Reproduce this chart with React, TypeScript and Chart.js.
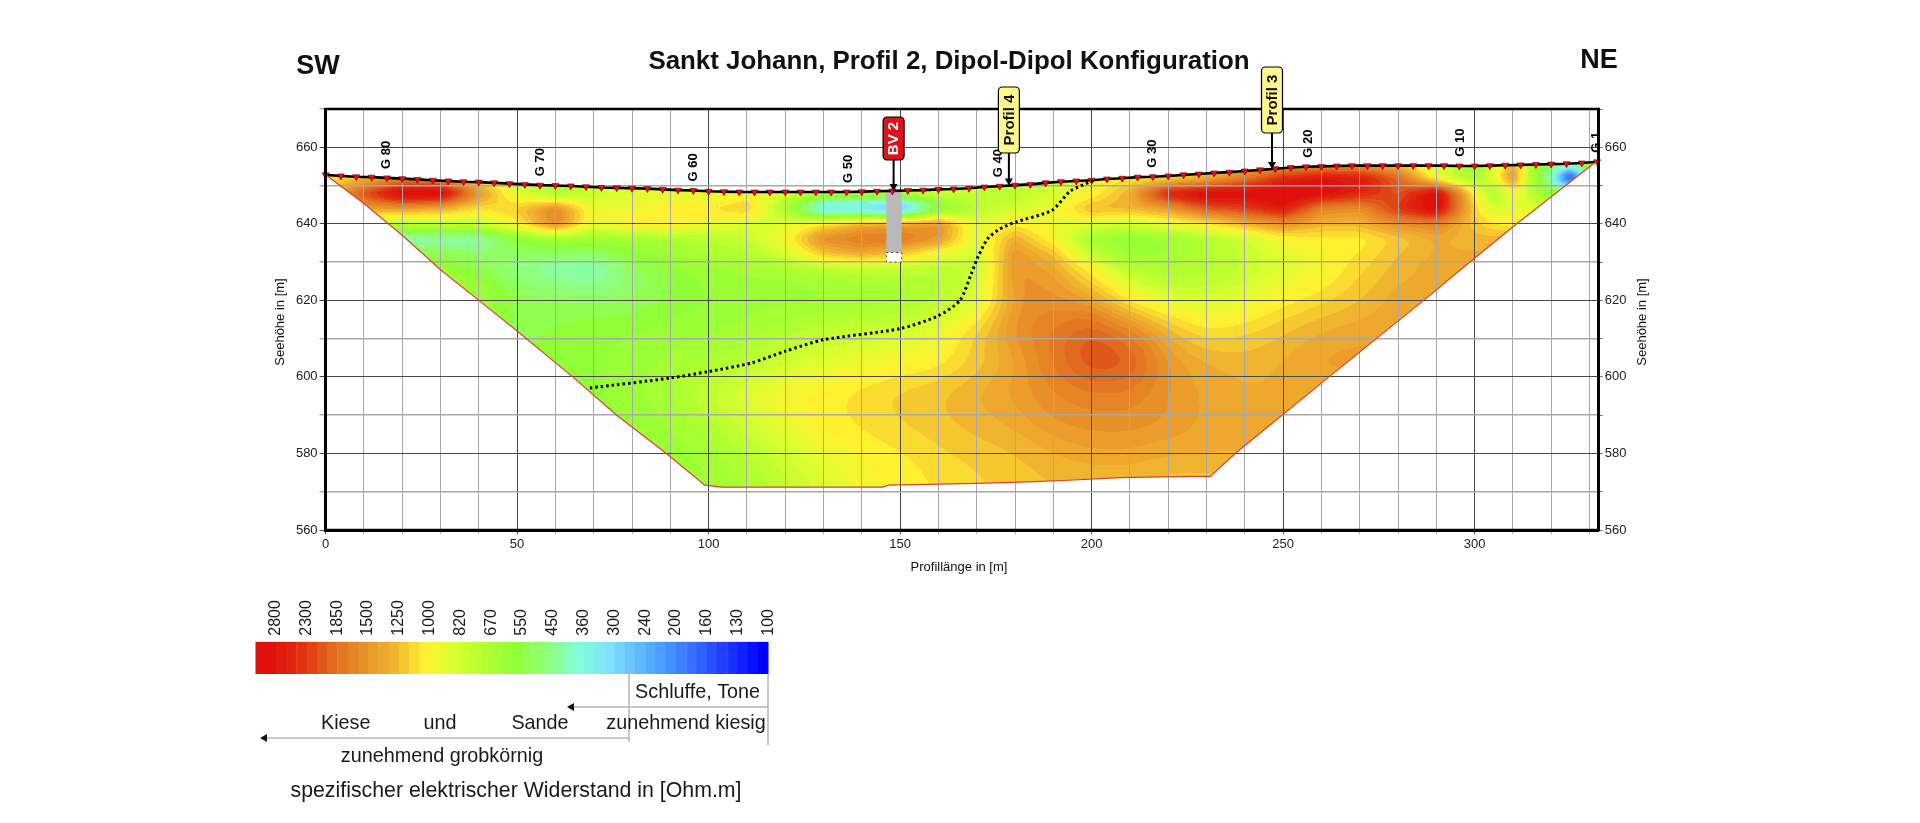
import { useEffect, useRef } from "react"
import { Chart, registerables } from "chart.js"

Chart.register(...registerables)
Chart.defaults.font.family = '"Liberation Sans", Arial, sans-serif'

const _ = null

const gridX = [0, 10, 20, 30, 40, 50, 60, 70, 80, 90, 100, 110, 120, 130, 140, 150, 160, 170, 180, 190, 200, 210, 220, 230, 240, 250, 260, 270, 280, 290, 300, 305, 310, 315, 320, 325, 330]
const gridY = [656, 652, 648, 644, 640, 636, 632, 628, 624, 620, 612, 604, 596, 588, 580, 572]
const rho656 = [1000, 1050, 1100, 1050, 900, 700, 700, 800, 850, 850, 850, 850, 800, 800, 800, 800, 800, 800, 800, 800, 950, 1000, 1000, 1050, 1100, 1250, 1300, 1300, 1100, 800, 620, 800, 1300, 650, 500, 520, 600]
const rho652 = [1000, 1200, 1500, 1500, 1000, 750, 720, 800, 850, 850, 850, 850, 800, 800, 800, 800, 800, 800, 800, 850, 950, 1000, 1050, 1250, 1700, 2400, 2800, 2700, 1900, 900, 600, 900, 1500, 650, 380, 115, 500]
const rho648 = [1100, 2100, 3400, 3300, 1500, 850, 620, 750, 850, 850, 850, 950, 820, 680, 650, 680, 780, 750, 700, 800, 950, 1300, 2700, 3200, 3000, 3200, 3000, 2500, 2000, 3200, 1000, 620, 950, 700, 520, 650, 700]
const rho644 = [_, _, 1400, 1300, 1050, 1150, 1600, 900, 900, 1000, 1050, 1150, 650, 280, 270, 220, 500, 700, 800, 900, 1250, 1250, 1400, 2000, 2200, 2700, 1600, 1500, 2300, 3100, 1100, 800, 850, 850, _, _, _]
const rho640 = [_, _, 700, 750, 750, 1000, 1600, 900, 1050, 1050, 900, 820, 850, 1050, 1300, 1400, 1500, 850, 1000, 900, 850, 800, 900, 1000, 1250, 1500, 1250, 1250, 1500, 1600, 1150, 1050, 1000, _, _, _, _]
const rho636 = [_, _, _, 400, 400, 550, 620, 600, 620, 650, 700, 750, 950, 1550, 1700, 1700, 1450, 850, 1300, 950, 620, 560, 600, 680, 780, 950, 1000, 1000, 1150, 1300, 1250, _, _, _, _, _, _]
const rho632 = [_, _, _, 520, 480, 480, 480, 470, 550, 600, 650, 680, 800, 1150, 1300, 1150, 900, 800, 1450, 1200, 750, 600, 620, 680, 760, 850, 950, 1050, 1200, 1300, 1300, _, _, _, _, _, _]
const rho628 = [_, _, _, 600, 520, 440, 400, 390, 480, 550, 600, 620, 640, 680, 700, 700, 680, 750, 1500, 1350, 1000, 700, 650, 680, 750, 850, 950, 1100, 1250, 1350, _, _, _, _, _, _, _]
const rho624 = [_, _, _, _, 600, 480, 450, 430, 470, 520, 570, 590, 590, 600, 620, 640, 680, 800, 1500, 1450, 1150, 850, 720, 720, 800, 900, 1000, 1150, 1300, _, _, _, _, _, _, _, _]
const rho620 = [_, _, _, _, 650, 520, 500, 490, 500, 540, 570, 590, 590, 600, 600, 620, 680, 800, 1450, 1500, 1400, 1000, 850, 820, 880, 1000, 1100, 1200, 1350, _, _, _, _, _, _, _, _]
const rho612 = [_, _, _, _, _, 520, 540, 560, 570, 590, 600, 620, 680, 720, 760, 800, 900, 1150, 1500, 1700, 1950, 1650, 1250, 1050, 1100, 1200, 1300, 1350, _, _, _, _, _, _, _, _, _]
const rho604 = [_, _, _, _, _, _, 530, 560, 590, 620, 650, 700, 780, 850, 900, 950, 1000, 1150, 1350, 1700, 2100, 2000, 1450, 1300, 1250, 1300, 1400, _, _, _, _, _, _, _, _, _, _]
const rho596 = [_, _, _, _, _, _, _, 560, 600, 650, 750, 850, 980, 1000, 1080, 1150, 1200, 1300, 1400, 1550, 1650, 1650, 1450, 1350, 1300, 1300, _, _, _, _, _, _, _, _, _, _, _]
const rho588 = [_, _, _, _, _, _, _, _, 560, 620, 680, 780, 900, 1000, 1060, 1120, 1180, 1250, 1320, 1450, 1500, 1500, 1450, 1350, 1300, _, _, _, _, _, _, _, _, _, _, _, _]
const rho580 = [_, _, _, _, _, _, _, _, _, 580, 630, 700, 800, 900, 980, 1030, 1100, 1150, 1200, 1280, 1350, 1350, 1300, 1300, _, _, _, _, _, _, _, _, _, _, _, _, _]
const rho572 = [_, _, _, _, _, _, _, _, _, _, 600, 650, 720, 820, 920, 980, 1050, 1100, 1150, 1200, 1200, 1200, 1150, 1150, _, _, _, _, _, _, _, _, _, _, _, _, _]
const gridRows = [rho656, rho652, rho648, rho644, rho640, rho636, rho632, rho628, rho624, rho620, rho612, rho604, rho596, rho588, rho580, rho572]

// Ground surface with electrodes
const surfaceX = [0, 4, 8, 12, 16, 20, 24, 28, 32, 36, 40, 44, 48, 52, 56, 60, 64, 68, 72, 76, 80, 84, 88, 92, 96, 100, 104, 108, 112, 116, 120, 124, 128, 132, 136, 140, 144, 148, 152, 156, 160, 164, 168, 172, 176, 180, 184, 188, 192, 196, 200, 204, 208, 212, 216, 220, 224, 228, 232, 236, 240, 244, 248, 252, 256, 260, 264, 268, 272, 276, 280, 284, 288, 292, 296, 300, 304, 308, 312, 316, 320, 324, 328, 332]
const surfaceY = [652.8, 652.5, 652.3, 652.2, 652.0, 651.8, 651.6, 651.4, 651.2, 651.0, 650.9, 650.7, 650.5, 650.3, 650.1, 650.0, 649.9, 649.7, 649.5, 649.4, 649.3, 649.2, 649.0, 648.8, 648.7, 648.5, 648.4, 648.3, 648.3, 648.3, 648.3, 648.3, 648.3, 648.3, 648.3, 648.4, 648.5, 648.6, 648.7, 648.8, 649.0, 649.1, 649.3, 649.6, 649.8, 650.1, 650.3, 650.7, 651.0, 651.2, 651.4, 651.7, 651.9, 652.2, 652.3, 652.5, 652.8, 653.0, 653.3, 653.5, 653.8, 654.1, 654.4, 654.7, 654.9, 655.0, 655.1, 655.2, 655.2, 655.2, 655.2, 655.2, 655.2, 655.2, 655.1, 655.1, 655.2, 655.3, 655.4, 655.5, 655.6, 655.7, 655.9, 656.2]

// Lower edge of the inverted section
const boundaryX = [0, 10, 20, 30, 40, 50, 64.5, 76, 89, 99, 103.5, 145.5, 147, 170, 183.6, 194, 207.6, 225.6, 231, 237.5, 262, 286.7, 300, 311, 331.7]
const boundaryY = [652.8, 645.3, 637, 628, 620, 612, 600, 590, 580, 571.7, 571.2, 571.2, 571.7, 572.2, 572.6, 573, 573.7, 574, 574, 580, 600, 620, 631, 640, 656.2]

// Dotted interpretation line
const layerX = [69, 90, 100, 111, 120, 130, 150, 160, 165.6, 168.6, 170.4, 172.8, 175.8, 180, 189.6, 194.4, 200.4]
const layerY = [597.1, 599.7, 601.4, 603.6, 606.7, 609.7, 612.6, 616, 620, 627, 631.5, 636, 638.5, 640.4, 643.5, 648.5, 651.3]

const gaugeLabels = ["G 80", "G 70", "G 60", "G 50", "G 40", "G 30", "G 20", "G 10", "G 1"]
const gaugeX = [16, 56, 96, 136.5, 175.8, 216, 256.7, 296.3, 331.7]
const gaugeY = [652, 650.1, 648.7, 648.3, 649.8, 652.3, 654.9, 655.2, 656.2]

const markerLabels = ["BV 2", "Profil 4", "Profil 3"]
const markerX = [148.3, 178.4, 247.1]
const markerY = [648.6, 650, 654.3]

const boreX = [146.4, 150.4]
const boreY = [648.5, 632.5, 630]

// Colour scale
const scaleLevels = [3000, 2800, 2630, 2460, 2300, 2140, 1990, 1850, 1730, 1610, 1500, 1410, 1330, 1250, 1160, 1080, 1000, 930, 870, 820, 770, 720, 670, 630, 590, 550, 510, 480, 450, 420, 390, 360, 340, 320, 300, 280, 260, 240, 225, 212, 200, 185, 172, 160, 150, 140, 130, 120, 110, 100]
const scaleColors = ["#e0100c", "#e03010", "#e06a20", "#e89028", "#f0b430", "#fff030", "#d8ff30", "#b0ff30", "#90ff38", "#90ff80", "#80ffd8", "#80e0ff", "#60b8ff", "#4090ff", "#3060ff", "#1830ff", "#0000ff"]

const titleText = "Sankt Johann, Profil 2, Dipol-Dipol Konfiguration"
const xTitle = "Profillänge in [m]"
const yTitle = "Seehöhe in [m]"

const hexRgb = (hex: string) => [1, 3, 5].map((i) => parseInt(hex.slice(i, i + 2), 16))

const levelRgb = scaleLevels.map((_v, i) => {
  const k = Math.max(0, (i - 1) / 3)
  const a = Math.floor(k)
  const b = Math.min(a + 1, scaleColors.length - 1)
  const ca = hexRgb(scaleColors[a])
  const cb = hexRgb(scaleColors[b])
  return ca.map((c, n) => Math.round(c + (cb[n] - c) * (k - a)))
})
const levelLog = scaleLevels.map((v) => Math.log10(v))

const findCell = (list: number[], v: number) => {
  let i = 0
  while (i < list.length - 2 && list[i + 1] < v) i++
  return i
}

// Cells outside the section take the nearest reading of their row
const filledRows = gridRows.map((row) =>
  row.map((v, i) => {
    if (v !== null) return Math.log10(v)
    for (let d = 1; d < row.length; d++) {
      const l = row[i - d]
      const r = row[i + d]
      if (l != null) return Math.log10(l)
      if (r != null) return Math.log10(r)
    }
    return 2.8
  })
)

const elevations = [...gridY].reverse()
const rowsUp = [...filledRows].reverse()

function boxBlur(src: Float32Array, w: number, h: number, r: number) {
  const tmp = new Float32Array(src.length)
  for (let y = 0; y < h; y++) {
    for (let x = 0; x < w; x++) {
      let sum = 0
      for (let d = -r; d <= r; d++) sum += src[y * w + Math.min(w - 1, Math.max(0, x + d))]
      tmp[y * w + x] = sum / (2 * r + 1)
    }
  }
  for (let y = 0; y < h; y++) {
    for (let x = 0; x < w; x++) {
      let sum = 0
      for (let d = -r; d <= r; d++) sum += tmp[Math.min(h - 1, Math.max(0, y + d)) * w + x]
      src[y * w + x] = sum / (2 * r + 1)
    }
  }
}

function renderSection(chart: any) {
  const { left, top, right, bottom } = chart.chartArea
  const w = Math.ceil(right - left)
  const h = Math.ceil(bottom - top)
  const field = new Float32Array(w * h)
  for (let j = 0; j < h; j++) {
    const yv = chart.scales.y.getValueForPixel(top + j + 0.5)
    const r = findCell(elevations, yv)
    const ty = Math.min(1, Math.max(0, (yv - elevations[r]) / (elevations[r + 1] - elevations[r])))
    for (let i = 0; i < w; i++) {
      const xv = chart.scales.x.getValueForPixel(left + i + 0.5)
      const c = findCell(gridX, xv)
      const tx = Math.min(1, Math.max(0, (xv - gridX[c]) / (gridX[c + 1] - gridX[c])))
      const lo = rowsUp[r][c] + (rowsUp[r][c + 1] - rowsUp[r][c]) * tx
      const hi = rowsUp[r + 1][c] + (rowsUp[r + 1][c + 1] - rowsUp[r + 1][c]) * tx
      field[j * w + i] = lo + (hi - lo) * ty
    }
  }
  // the deep rows are further apart, so they get a wider smoothing
  const wide = field.slice()
  boxBlur(wide, w, h, 14)
  boxBlur(wide, w, h, 10)
  boxBlur(field, w, h, 4)
  boxBlur(field, w, h, 3)
  for (let j = 0; j < h; j++) {
    const yv = chart.scales.y.getValueForPixel(top + j + 0.5)
    const t = Math.min(1, Math.max(0, (632 - yv) / 10))
    for (let i = 0; i < w; i++) {
      field[j * w + i] += (wide[j * w + i] - field[j * w + i]) * t
    }
  }
  const off = document.createElement("canvas")
  off.width = w
  off.height = h
  const octx = off.getContext("2d")!
  const img = octx.createImageData(w, h)
  for (let p = 0; p < w * h; p++) {
    const v = field[p]
    let best = 0
    for (let n = 1; n < levelLog.length; n++) {
      if (Math.abs(levelLog[n] - v) < Math.abs(levelLog[best] - v)) best = n
    }
    img.data[p * 4] = levelRgb[best][0]
    img.data[p * 4 + 1] = levelRgb[best][1]
    img.data[p * 4 + 2] = levelRgb[best][2]
    img.data[p * 4 + 3] = 255
  }
  octx.putImageData(img, 0, 0)
  return off
}

const sectionPlugin = {
  id: "section",
  beforeDraw(chart: any) {
    const { ctx, scales, chartArea } = chart
    const off = renderSection(chart)
    ctx.save()
    ctx.beginPath()
    surfaceX.forEach((x, i) => {
      ctx.lineTo(scales.x.getPixelForValue(x), scales.y.getPixelForValue(surfaceY[i]))
    })
    for (let i = boundaryX.length - 1; i >= 0; i--) {
      ctx.lineTo(scales.x.getPixelForValue(boundaryX[i]), scales.y.getPixelForValue(boundaryY[i]))
    }
    ctx.closePath()
    ctx.clip()
    ctx.drawImage(off, chartArea.left, chartArea.top)
    ctx.restore()
  },
  beforeDatasetsDraw(chart: any) {
    const { ctx, scales } = chart
    const x0 = scales.x.getPixelForValue(boreX[0])
    const x1 = scales.x.getPixelForValue(boreX[1])
    const y0 = scales.y.getPixelForValue(boreY[0])
    const y1 = scales.y.getPixelForValue(boreY[1])
    const y2 = scales.y.getPixelForValue(boreY[2])
    ctx.save()
    ctx.fillStyle = "#b9b9b9"
    ctx.fillRect(x0, y0, x1 - x0, y1 - y0)
    ctx.fillStyle = "#ffffff"
    ctx.fillRect(x0, y1, x1 - x0, y2 - y1)
    ctx.setLineDash([2, 3])
    ctx.strokeStyle = "#444"
    ctx.lineWidth = 1
    ctx.strokeRect(x0, y1, x1 - x0, y2 - y1)
    ctx.restore()
  },
  afterDraw(chart: any) {
    const { ctx, scales, chartArea } = chart
    const rotated = (text: string, x: number, y: number, align: CanvasTextAlign) => {
      ctx.save()
      ctx.translate(x, y)
      ctx.rotate(-Math.PI / 2)
      ctx.textAlign = align
      ctx.textBaseline = "middle"
      ctx.fillText(text, 0, 0)
      ctx.restore()
    }
    ctx.save()
    // frame
    ctx.strokeStyle = "#000"
    ctx.lineWidth = 2.5
    ctx.strokeRect(chartArea.left, chartArea.top, chartArea.right - chartArea.left, chartArea.bottom - chartArea.top)

    // headings
    ctx.fillStyle = "#111"
    ctx.textAlign = "center"
    ctx.textBaseline = "middle"
    ctx.font = 'bold 25.9px "Liberation Sans"'
    ctx.fillText(titleText, 949, 62)
    ctx.font = 'bold 27px "Liberation Sans"'
    ctx.fillText("SW", 318, 67)
    ctx.fillText("NE", 1599, 61)

    // axis titles
    ctx.font = '13px "Liberation Sans"'
    ctx.fillText(xTitle, 959, 567)
    rotated(yTitle, 280.5, 322, "center")
    rotated(yTitle, 1642, 322, "center")

    // geophone labels
    ctx.fillStyle = "#000"
    ctx.font = 'bold 13px "Liberation Sans"'
    gaugeLabels.forEach((label, i) => {
      rotated(label, scales.x.getPixelForValue(gaugeX[i]), scales.y.getPixelForValue(gaugeY[i]) - 9, "left")
    })

    // borehole and profile flags
    markerLabels.forEach((label, i) => {
      const x = scales.x.getPixelForValue(markerX[i])
      const tip = scales.y.getPixelForValue(markerY[i])
      const isBore = i === 0
      const boxTop = i === 0 ? 117 : i === 1 ? 87 : 67
      const boxBottom = i === 0 ? 160 : i === 1 ? 153 : 133
      ctx.strokeStyle = "#000"
      ctx.lineWidth = 2
      ctx.beginPath()
      ctx.moveTo(x, boxBottom)
      ctx.lineTo(x, tip - 5)
      ctx.stroke()
      ctx.fillStyle = "#000"
      ctx.beginPath()
      ctx.moveTo(x - 4, tip - 7)
      ctx.lineTo(x + 4, tip - 7)
      ctx.lineTo(x, tip)
      ctx.closePath()
      ctx.fill()
      ctx.beginPath()
      ctx.roundRect(x - 10.5, boxTop, 21, boxBottom - boxTop, 4)
      ctx.fillStyle = isBore ? "#e0101c" : "#fdf78c"
      ctx.fill()
      ctx.lineWidth = 1.2
      ctx.stroke()
      ctx.fillStyle = isBore ? "#fff" : "#111"
      ctx.font = 'bold 15px "Liberation Sans"'
      rotated(label, x + 0.5, (boxTop + boxBottom) / 2, "center")
    })
    ctx.restore()
  },
}

const legendPlugin = {
  id: "legendNotes",
  afterDraw(chart: any) {
    const { ctx } = chart
    const arrow = (x0: number, x1: number, y: number) => {
      ctx.strokeStyle = "#b5b5b5"
      ctx.lineWidth = 1.5
      ctx.beginPath()
      ctx.moveTo(x0, y)
      ctx.lineTo(x1, y)
      ctx.stroke()
      ctx.fillStyle = "#111"
      ctx.beginPath()
      ctx.moveTo(x1, y - 4)
      ctx.lineTo(x1, y + 4)
      ctx.lineTo(x1 - 7, y)
      ctx.closePath()
      ctx.fill()
    }
    const vertical = (x: number, y0: number, y1: number) => {
      ctx.strokeStyle = "#b5b5b5"
      ctx.lineWidth = 1.5
      ctx.beginPath()
      ctx.moveTo(x, y0)
      ctx.lineTo(x, y1)
      ctx.stroke()
    }
    ctx.save()
    ctx.translate(-240, -590)
    vertical(629, 667, 742)
    vertical(768, 674, 745)
    arrow(768, 574, 707)
    arrow(629, 267, 738)
    ctx.fillStyle = "#1a1a1a"
    ctx.font = '19.8px "Liberation Sans"'
    ctx.textAlign = "center"
    ctx.textBaseline = "middle"
    ctx.fillText("Schluffe, Tone", 697.6, 693)
    ctx.fillText("Kiese", 345.7, 724)
    ctx.fillText("und", 440, 724)
    ctx.fillText("Sande", 540, 724)
    ctx.fillText("zunehmend kiesig", 686, 724)
    ctx.fillText("zunehmend grobkörnig", 442, 757)
    ctx.font = '21.3px "Liberation Sans"'
    ctx.fillText("spezifischer elektrischer Widerstand in [Ohm.m]", 516, 791)
    ctx.restore()
  },
}

const tickFont = { size: 13 }
const fixedWidth = (w: number) => (scale: any) => {
  scale.width = w
}

export default function App() {
  const sectionRef = useRef<HTMLCanvasElement>(null)
  const legendRef = useRef<HTMLCanvasElement>(null)

  useEffect(() => {
    document.body.style.margin = "0"
    if (!sectionRef.current || !legendRef.current) return

    const toPoints = (xs: number[], ys: number[]) => xs.map((x, i) => ({ x, y: ys[i] }))

    const sectionChart = new Chart(sectionRef.current, {
      type: "line",
      data: {
        datasets: [
          {
            label: "Schichtgrenze",
            data: toPoints(layerX, layerY),
            borderColor: "#000",
            borderWidth: 3,
            borderDash: [2.5, 3],
            tension: 0.25,
            pointRadius: 0,
          },
          {
            label: "Modellrand",
            data: toPoints(boundaryX, boundaryY),
            borderColor: "#e0402a",
            borderWidth: 1.2,
            pointRadius: 0,
          },
          {
            label: "Gelände",
            data: toPoints(surfaceX, surfaceY),
            borderColor: "#000",
            borderWidth: 2.6,
            clip: false,
            pointStyle: "triangle",
            pointRotation: 180,
            pointRadius: 4,
            pointBackgroundColor: "#e0101c",
            pointBorderColor: "#6a0008",
            pointBorderWidth: 0.6,
          },
        ],
      } as any,
      options: {
        responsive: false,
        animation: false,
        devicePixelRatio: 1,
        layout: { padding: { left: 280.6, right: 281.3, top: 109, bottom: 263 } },
        plugins: { legend: { display: false }, title: { display: false }, tooltip: { enabled: false } },
        scales: {
          x: {
            type: "linear",
            min: 0,
            max: 332.4,
            afterFit: (scale: any) => {
              scale.height = 30
            },
            border: { color: "#000", width: 3 },
            grid: {
              tickLength: 4,
              lineWidth: 1,
              color: (c: any) => (c.tick.value % 50 === 0 ? "#4a4a4a" : "#a8a8a8"),
            },
            ticks: {
              stepSize: 10,
              includeBounds: false,
              autoSkip: false,
              maxRotation: 0,
              padding: 3,
              color: "#222",
              font: tickFont,
              callback: (v: any) => (Number(v) % 50 === 0 ? String(v) : ""),
            },
          },
          y: {
            type: "linear",
            min: 560,
            max: 670,
            afterFit: fixedWidth(45),
            border: { color: "#000", width: 3 },
            grid: {
              tickLength: 6,
              lineWidth: (c: any) => (c.tick.value % 20 === 0 ? 1 : 1.4),
              color: (c: any) => (c.tick.value % 20 === 0 ? "#4a4a4a" : "#a8a8a8"),
            },
            ticks: {
              stepSize: 10,
              autoSkip: false,
              padding: 2,
              color: "#222",
              font: tickFont,
              callback: (v: any) => (Number(v) % 20 === 0 ? String(v) : ""),
            },
          },
          yRight: {
            type: "linear",
            position: "right",
            min: 560,
            max: 670,
            afterFit: fixedWidth(40),
            border: { color: "#000", width: 2.5 },
            grid: { drawOnChartArea: false, tickLength: 4, color: "#777" },
            ticks: {
              stepSize: 10,
              autoSkip: false,
              padding: 2,
              color: "#222",
              font: tickFont,
              callback: (v: any) => (Number(v) % 20 === 0 ? String(v) : ""),
            },
          },
        },
      },
      plugins: [sectionPlugin],
    } as any)

    const legendChart = new Chart(legendRef.current, {
      type: "bar",
      data: {
        labels: scaleLevels.map(String),
        datasets: [
          {
            data: scaleLevels.map(() => 1),
            backgroundColor: levelRgb.map((c) => `rgb(${c.join(",")})`),
            borderColor: levelRgb.map((c) => `rgb(${c.join(",")})`),
            borderWidth: 1,
            categoryPercentage: 1,
            barPercentage: 1,
          },
        ],
      },
      options: {
        responsive: false,
        animation: false,
        devicePixelRatio: 1,
        layout: { padding: { left: 15.4, right: 31.4, top: 0, bottom: 149 } },
        plugins: { legend: { display: false }, title: { display: false }, tooltip: { enabled: false } },
        scales: {
          x: {
            type: "category",
            position: "top",
            afterFit: (scale: any) => {
              scale.height = 51.7
              scale.paddingLeft = 0
              scale.paddingRight = 0
            },
            border: { display: false },
            grid: { display: false, drawTicks: false },
            ticks: {
              autoSkip: false,
              minRotation: 90,
              maxRotation: 90,
              padding: 6,
              labelOffset: 24,
              color: "#1a1a1a",
              font: { size: 16 },
              callback: (_v: any, i: number) => (i % 3 === 1 ? String(scaleLevels[i]) : ""),
            },
          },
          y: { display: false, min: 0, max: 1 },
        },
      },
      plugins: [legendPlugin],
    } as any)

    return () => {
      sectionChart.destroy()
      legendChart.destroy()
    }
  }, [])

  return (
    <div style={{ position: "relative", width: 1920, height: 823, overflow: "hidden", background: "#fff" }}>
      <canvas ref={sectionRef} width={1920} height={823} style={{ position: "absolute", left: 0, top: 0 }} />
      <canvas ref={legendRef} width={560} height={233} style={{ position: "absolute", left: 240, top: 590 }} />
    </div>
  )
}
